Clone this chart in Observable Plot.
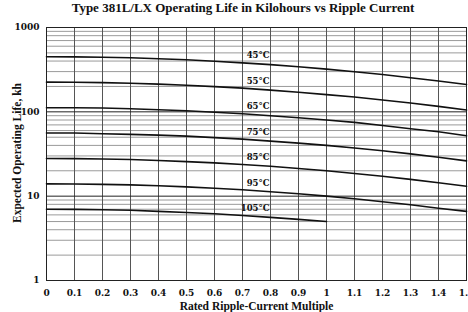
<!DOCTYPE html>
<html>
<head>
<meta charset="utf-8">
<script src="https://cdn.jsdelivr.net/npm/d3@7"></script>
<script src="https://cdn.jsdelivr.net/npm/@observablehq/plot@0.6"></script>
<style>
  body { margin: 0; background: white; }
  #title { box-sizing: border-box; width: 468px; height: 20px; line-height: 30px; padding-left: 18px;
           text-align: center; font: bold 13px "Liberation Serif", serif; color: #111; white-space: nowrap; }
</style>
</head>
<body>
<div id="title">Type 381L/LX Operating Life in Kilohours vs Ripple Current</div>
<div id="chart"></div>
<script>
const ripple = [0, 0.1, 0.2, 0.3, 0.4, 0.5, 0.6, 0.7, 0.8, 0.9, 1.0, 1.1, 1.2, 1.3, 1.4, 1.5];
const temps = ["45°C", "55°C", "65°C", "75°C", "85°C", "95°C", "105°C"];
const life45  = [450, 448, 444, 437, 426, 414, 398, 381, 363, 342, 321, 299, 277, 254, 232, 211];
const life55  = [225, 224, 222, 218, 213, 207, 199, 191, 181, 171, 160, 150, 138, 127, 116, 105];
const life65  = [112, 112, 111, 109, 106, 103, 99, 95, 90, 85, 80, 75, 69, 63, 58, 52];
const life75  = [56, 56, 55, 54, 53, 51.5, 49.5, 47.5, 45, 42.6, 40, 37.3, 34.5, 31.7, 28.9, 26.2];
const life85  = [28, 27.9, 27.6, 27.2, 26.5, 25.7, 24.8, 23.7, 22.6, 21.3, 20, 18.6, 17.2, 15.8, 14.4, 13.1];
const life95  = [14, 13.95, 13.8, 13.6, 13.3, 12.9, 12.4, 11.9, 11.3, 10.7, 10, 9.3, 8.6, 7.9, 7.2, 6.6];
const life105 = [7, 6.98, 6.9, 6.8, 6.6, 6.4, 6.2, 5.9, 5.6, 5.3, 5.0];
const xTicks = [0, 0.1, 0.2, 0.3, 0.4, 0.5, 0.6, 0.7, 0.8, 0.9, 1, 1.1, 1.2, 1.3, 1.4, 1.5];
const yTicks = [1, 10, 100, 1000];
const yMinor = [2, 3, 4, 5, 6, 7, 8, 9, 20, 30, 40, 50, 60, 70, 80, 90, 200, 300, 400, 500, 600, 700, 800, 900];
const xLabel = "Rated Ripple-Current Multiple";
const yLabel = "Expected Operating Life, kh";

const series = [life45, life55, life65, life75, life85, life95, life105];
const data = series.flatMap((vals, i) => vals.map((v, j) => ({x: ripple[j], y: v, t: temps[i]})));
const labels = series.map((vals, i) => ({t: temps[i], x: 0.8, y: vals[0]}));

const chart = Plot.plot({
  width: 468,
  height: 292,
  marginLeft: 46,
  marginRight: 2,
  marginTop: 7,
  marginBottom: 32,
  style: {fontFamily: "DejaVu Serif", fontWeight: "bold", background: "white", color: "#111"},
  x: {domain: [0, 1.5]},
  y: {type: "log", domain: [1, 1000]},
  marks: [
    Plot.ruleY(yMinor, {stroke: "#9a9a9a", strokeWidth: 1}),
    Plot.ruleX(xTicks, {stroke: "#555", strokeWidth: 1}),
    Plot.ruleY(yTicks, {stroke: "#222", strokeWidth: 1}),
    Plot.frame({stroke: "#222", strokeWidth: 1}),
    Plot.line(data, {x: "x", y: "y", z: "t", stroke: "#111", strokeWidth: 1.6}),
    Plot.text(labels, {x: "x", y: "y", text: "t", textAnchor: "end", dx: -1, dy: -1, fontSize: 8.5, fill: "#111"}),
    Plot.axisX({ticks: xTicks, tickSize: 0, tickPadding: 9, fontSize: 9, label: null,
                tickFormat: d => String(+d.toFixed(1))}),
    Plot.axisY({ticks: yTicks, tickSize: 0, tickPadding: 7, fontSize: 9, label: null,
                tickFormat: d => String(d)}),
    Plot.text([xLabel], {frameAnchor: "bottom", lineAnchor: "middle", dy: 25.5, fontSize: 11.5,
                         fontFamily: "Liberation Serif", fill: "#111"}),
    Plot.text([yLabel], {frameAnchor: "left", textAnchor: "middle", lineAnchor: "middle", rotate: -90, dx: -29, dy: -1,
                         fontSize: 11.5, fontFamily: "Liberation Serif", fill: "#111"})
  ]
});
document.getElementById("chart").appendChild(chart);
</script>
</body>
</html>
